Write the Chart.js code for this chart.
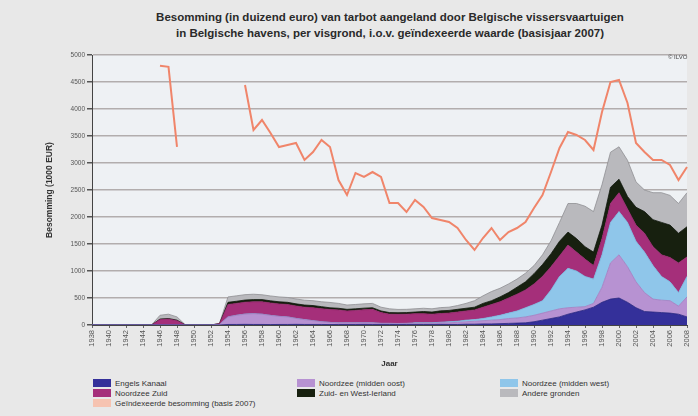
<!DOCTYPE html>
<html><head><meta charset="utf-8">
<script src="https://cdn.jsdelivr.net/npm/chart.js@4.4.0/dist/chart.umd.min.js"></script>
<style>
html,body{margin:0;padding:0;background:#e8e8e8;width:698px;height:416px;overflow:hidden;font-family:"Liberation Sans",Arial,sans-serif;}
#wrap{position:relative;width:698px;height:416px;}
#title{position:absolute;left:0;width:780px;top:9px;text-align:center;font-weight:bold;font-size:11.5px;line-height:16px;color:#2a2a2a;}
#cv{position:absolute;left:0;top:0;}
#copy{position:absolute;left:668px;top:54px;font-size:6px;color:#444;}
.lg{position:absolute;font-size:8px;color:#333;white-space:nowrap;line-height:9px;}
.lg i{display:inline-block;width:18px;height:8px;vertical-align:-1px;margin-right:4px;}
</style></head>
<body><div id="wrap">
<div id="title">Besomming (in duizend euro) van tarbot aangeland door Belgische vissersvaartuigen<br>in Belgische havens, per visgrond, i.o.v. geïndexeerde waarde (basisjaar 2007)</div>
<canvas id="cv" width="698" height="372"></canvas>
<div id="copy">© ILVO</div>
<div id="legend"></div>
</div>
<script>
const years = [1938,1939,1940,1941,1942,1943,1944,1945,1946,1947,1948,1949,1950,1951,1952,1953,1954,1955,1956,1957,1958,1959,1960,1961,1962,1963,1964,1965,1966,1967,1968,1969,1970,1971,1972,1973,1974,1975,1976,1977,1978,1979,1980,1981,1982,1983,1984,1985,1986,1987,1988,1989,1990,1991,1992,1993,1994,1995,1996,1997,1998,1999,2000,2001,2002,2003,2004,2005,2006,2007,2008];

const engelsKanaal = [0,0,0,0,0,0,0,0, 0,0,0, 0,0,0,0, 0,
  10,10,12,10,10,8,10,10,12,10,10,10,8,10,10,10,12,10,10,10,8,10,10,10,10,12,10,10,
  15,15,20,20,25,30,35,40,60,90,120,150,200,240,280,330,420,480,500,420,320,250,240,230,220,200,150];

const noordzeeMiddenOost = [0,0,0,0,0,0,0,0, 0,0,0, 0,0,0,0, 10,
  140,170,190,200,190,170,150,140,110,90,70,50,40,30,30,30,30,30,20,20,20,20,20,20,20,30,30,40,
  45,55,60,70,75,90,95,110,120,130,140,150,120,90,60,70,280,670,800,660,480,350,240,230,230,150,370];

const noordzeeMiddenWest = [0,0,0,0,0,0,0,0, 0,0,0, 0,0,0,0, 0,
  0,0,0,0,0,0,0,0,0,0,0,0,0,0,0,0,0,0,0,0,0,0,
  10,10,10,10,20,20,30,30,40,60,80,100,130,170,200,230,390,600,730,670,560,450,600,750,800,820,750,750,620,440,350,250,380];

const noordzeeZuid = [0,0,0,0,0,0,0,0, 100,110,80, 0,0,0,0, 15,
  230,220,220,220,230,230,230,230,230,230,240,240,240,240,220,230,240,250,200,170,170,170,170,170,160,160,160,170,
  170,180,210,230,250,280,310,330,380,450,430,380,430,350,320,250,300,350,350,250,300,350,350,400,450,550,360];

const zuidWestIerland = [0,0,0,0,0,0,0,0, 10,10,10, 0,0,0,0, 0,
  40,40,40,40,40,40,40,40,40,40,40,40, 30,30,30,30,30,30,30,30,30,30,30,
  40,40,50,50,50,50,50,70,70,90,100,130,150,190,220,240,270,240,250,230,250,250,300,250,230,330,400,500,600,600,550,560];

const andereGronden = [0,0,0,0,0,0,0,0, 70,80,60, 0,0,0,0, 5,
  100,100,100,100,90,90,90,90,90,90,90,90,100,90,80,80,80,80,70,70,60,60,60,60,60,60,60,70,
  90,120,140,170,160,160,150,160,150,180,240,350,530,650,750,750,750,650,600,670,470,400,500,550,550,550,630];

const geindexeerd = [null,null,null,null,null,null,null,null, 4800,4780,3300, null,null,null,null,null,null,null,
  4444,3611,3796,3556,3296,3333,3370,3056,3204,3426,3296,2685,2407,2815,2741,2833,2741,2259,2259,2093,2315,2185,1981,1944,
  1907,1796,1574,1389,1611,1796,1574,1722,1796,1907,2167,2407,2833,3278,3574,3519,3426,3241,3944,4500,4537,4111,3370,3204,3056,3056,2963,2685,2926];

const seriesNames = ['Engels Kanaal','Noordzee (midden oost)','Noordzee (midden west)','Noordzee Zuid','Zuid- en West-Ierland','Andere gronden'];
const indexName = 'Geïndexeerde besomming (basis 2007)';
const yMin = 0, yMax = 5000, yStep = 500;

const fills = ['#34309a','#b792d2','#8fc6ea','#a52f7a','#17200f','#b9b9bd'];
const borders = ['#2a2680','#a07cc0','#78b3dc','#8e2266','#0d140a','#8f8f93'];
const lineColor = '#f0856a';

const stackSeries = [engelsKanaal,noordzeeMiddenOost,noordzeeMiddenWest,noordzeeZuid,zuidWestIerland,andereGronden];
const datasets = stackSeries.map((d,i)=>({
  label: seriesNames[i], data: d, stack:'grounds',
  backgroundColor: fills[i], borderColor: borders[i], borderWidth: 0.8,
  fill: i===0 ? 'origin' : '-1', pointRadius:0, tension:0
}));
datasets.push({label:indexName, data:geindexeerd, stack:'index', order:-1,
  borderColor: lineColor, backgroundColor: lineColor, borderWidth: 2, fill:false,
  pointRadius:0, tension:0, spanGaps:false});

const bgPlugin = {id:'bg', beforeDraw(c){const a=c.chartArea,x=c.ctx;x.save();x.fillStyle='#eef1f4';x.fillRect(a.left,a.top,a.right-a.left,a.bottom-a.top);x.restore();}};

Chart.defaults.font.family = '"Liberation Sans", Arial, sans-serif';
const chart = new Chart(document.getElementById('cv'), {
  type:'line',
  data:{labels: years.map(String), datasets},
  plugins:[bgPlugin],
  options:{
    responsive:false, animation:false, devicePixelRatio:1,
    layout:{padding:{top:55,left:0,right:3,bottom:2}},
    plugins:{legend:{display:false}, title:{display:false}, tooltip:{enabled:false}},
    scales:{
      x:{
        grid:{display:true, drawOnChartArea:false, drawTicks:true, tickLength:3, color:'#666'},
        border:{color:'#444', width:1},
        ticks:{autoSkip:false, minRotation:90, maxRotation:90, padding:2, color:'#555', font:{size:7.5},
          callback:(v,i)=> years[i]%2===0 ? String(years[i]) : null},
        title:{display:true, text:'Jaar', color:'#333', font:{size:8, weight:'bold'}, padding:{top:0,bottom:1}},
        afterFit:(s)=>{s.height=45;}
      },
      y:{
        stacked:true, min:yMin, max:yMax,
        grid:{color:'#b2adad', lineWidth:1.5, drawTicks:true, tickLength:5, tickColor:'#555'},
        border:{color:'#444', width:1},
        ticks:{stepSize:yStep, color:'#555', font:{size:6.5}, padding:2, callback:(v)=>String(v)},
        title:{display:true, text:'Besomming (1000 EUR)', color:'#333', font:{size:8.5, weight:'bold'}, padding:{top:45,bottom:0}},
        afterFit:(s)=>{s.width=92;}
      }
    }
  }
});

// HTML legend built from chart datasets, row-major in 3 columns
const colX = [93, 297, 500];
const rowY = [379, 389, 399];
const lg = document.getElementById('legend');
chart.data.datasets.forEach((ds,i)=>{
  const el = document.createElement('div');
  el.className='lg';
  el.style.left = colX[i%3]+'px';
  el.style.top = rowY[Math.floor(i/3)]+'px';
  const sw = document.createElement('i');
  sw.style.background = i===6 ? '#f6c3b1' : ds.backgroundColor;
  el.appendChild(sw);
  el.appendChild(document.createTextNode(ds.label));
  lg.appendChild(el);
});
</script>
</body></html>
